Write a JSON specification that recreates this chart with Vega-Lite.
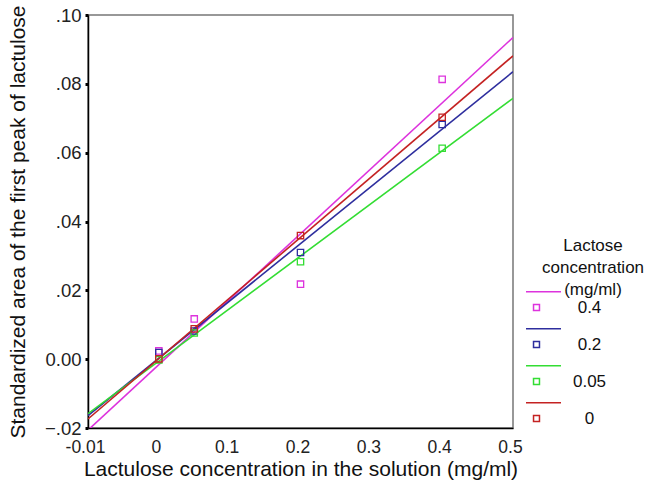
{
  "$schema": "https://vega.github.io/schema/vega-lite/v6.json",
  "autosize": "none",
  "width": 425,
  "height": 413,
  "padding": {"left": 88, "top": 15, "right": 137, "bottom": 59},
  "background": "white",
  "config": {
    "font": "Liberation Sans",
    "view": {"stroke": "#777", "strokeWidth": 1.5},
    "axis": {"grid": false, "labelColor": "#222", "titleColor": "#111", "labelFont": "Liberation Sans", "titleFont": "Liberation Sans", "titleFontWeight": "normal"},
    "legend": {"labelFont": "Liberation Sans", "titleFont": "Liberation Sans"}
  },
  "data": {
    "values": [
      {"lactulose": 0, "area": 0.0024, "lactose": "0.4"},
      {"lactulose": 0.05, "area": 0.0117, "lactose": "0.4"},
      {"lactulose": 0.2, "area": 0.0218, "lactose": "0.4"},
      {"lactulose": 0.4, "area": 0.0813, "lactose": "0.4"},
      {"lactulose": 0, "area": 0.0019, "lactose": "0.2"},
      {"lactulose": 0.05, "area": 0.0082, "lactose": "0.2"},
      {"lactulose": 0.2, "area": 0.0310, "lactose": "0.2"},
      {"lactulose": 0.4, "area": 0.0682, "lactose": "0.2"},
      {"lactulose": 0, "area": -0.0002, "lactose": "0.05"},
      {"lactulose": 0.05, "area": 0.0076, "lactose": "0.05"},
      {"lactulose": 0.2, "area": 0.0283, "lactose": "0.05"},
      {"lactulose": 0.4, "area": 0.0613, "lactose": "0.05"},
      {"lactulose": 0, "area": 0.0001, "lactose": "0"},
      {"lactulose": 0.05, "area": 0.0088, "lactose": "0"},
      {"lactulose": 0.2, "area": 0.0359, "lactose": "0"},
      {"lactulose": 0.4, "area": 0.0703, "lactose": "0"}
    ]
  },
  "encoding": {
    "x": {
      "field": "lactulose", "type": "quantitative",
      "scale": {"domain": [-0.1, 0.5], "nice": false, "zero": false},
      "axis": {
        "title": "Lactulose concentration in the solution (mg/ml)",
        "values": [-0.1, 0, 0.1, 0.2, 0.3, 0.4, 0.5],
        "format": "~g",
        "labelExpr": "datum.value < -0.05 ? '-0.01' : datum.label",
        "ticks": false, "tickSize": 0,
        "labelPadding": 10, "labelFontSize": 17.5, "titleFontSize": 21, "titlePadding": 3,
        "domainColor": "#000", "domainWidth": 1.5, "labelFlush": false, "labelOffset": -3
      }
    },
    "y": {
      "field": "area", "type": "quantitative",
      "scale": {"domain": [-0.02, 0.1], "nice": false, "zero": false},
      "axis": {
        "title": "Standardized area of the first peak of lactulose",
        "values": [-0.02, 0, 0.02, 0.04, 0.06, 0.08, 0.1],
        "labelExpr": "datum.value == 0 ? '0.00' : replace(format(datum.value, '.2f'), '0.', '.')",
        "tickSize": 3, "tickWidth": 3, "tickColor": "#000",
        "labelPadding": 4, "labelFontSize": 18.5, "titleFontSize": 21, "titlePadding": 16,
        "domainColor": "#000", "domainWidth": 1.5, "labelFlush": false
      }
    },
    "color": {
      "field": "lactose", "type": "nominal",
      "scale": {"domain": ["0.4", "0.2", "0.05", "0"], "range": ["#dd33dd", "#2e2e9e", "#33dd33", "#c42222"]},
      "legend": {
        "title": ["Lactose", "concentration", "(mg/ml)"],
        "orient": "none", "legendX": 437, "legendY": 223,
        "titleFontSize": 17, "titleFontWeight": "normal", "titleAlign": "center", "titleAnchor": "middle",
        "titleLineHeight": 22, "titlePadding": -10, "titleColor": "#111",
        "labelFontSize": 17, "labelColor": "#111", "labelAlign": "center", "labelOffset": 27.5,
        "symbolType": "M-1,-0.9L1,-0.9M-0.57,-0.17L-0.23,-0.17L-0.23,0.17L-0.57,0.17ZM6.54,0",
        "symbolSize": 1225, "symbolStrokeWidth": 1.5, "symbolFillColor": "transparent",
        "rowPadding": 9, "padding": 0
      }
    }
  },
  "layer": [
    {
      "transform": [{"regression": "area", "on": "lactulose", "groupby": ["lactose"], "extent": [-0.1, 0.5]}],
      "mark": {"type": "line", "clip": true, "strokeWidth": 1.6}
    },
    {
      "mark": {"type": "point", "shape": "square", "filled": false, "size": 40, "strokeWidth": 1.3, "opacity": 1}
    }
  ]
}
